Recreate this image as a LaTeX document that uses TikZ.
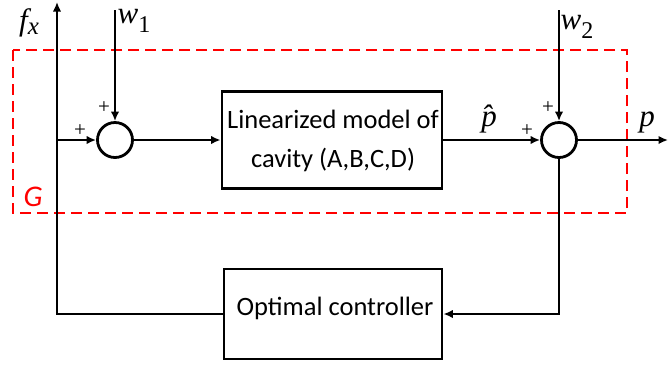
\documentclass[tikz,border=0pt]{standalone}
\usepackage{fontspec}
\setmainfont{Liberation Serif}
\newfontfamily\calib{Carlito}
\newfontfamily\tms{Liberation Serif}
\newcommand\mlabtxt[1]{{\tms\itshape\fontsize{31}{34}\selectfont #1}}
\newcommand\pltxt{{\tms\fontsize{21}{22}\selectfont +}}
\usetikzlibrary{arrows.meta}
\begin{document}
\begin{tikzpicture}[x=1pt,y=-1pt,
  line width=2.8pt,
  arr/.style={-{Latex[length=9.5pt,width=8.5pt]}},
  sumnode/.style={circle,draw,line width=2.8pt,minimum size=35pt,inner sep=0pt},
  blk/.style={draw,line width=2.8pt,rectangle,inner sep=0pt},
  blktext/.style={font=\calib\fontsize{26.5}{39}\selectfont,align=center,inner sep=0pt},
  mlab/.style={inner sep=0pt},
  pl/.style={inner sep=0pt},
  gbox/.style={draw=red,dash pattern=on 11pt off 6pt,line width=2.3pt}
]
\useasboundingbox (0,0) rectangle (668,365);
% dashed G box
\draw[gbox] (13,50) rectangle (627,213);
\node[text=red,inner sep=0pt] (G) at (33,197) {\calib\itshape\fontsize{30}{32}\selectfont G};

% nodes
\node[sumnode] (s1) at (115,140) {};
\node[sumnode] (s2) at (559,140) {};
\node[blk,minimum width=220pt,minimum height=97pt] (model) at (332,140) {};
\node[blktext] (modeltxt) at (333,141) {Linearized model of\\cavity (A,B,C,D)};
\node[blk,minimum width=218pt,minimum height=90pt] (ctrl) at (333,314) {};
\node[blktext] (ctrltxt) at (335,308) {Optimal controller};

% coordinates
\coordinate (fxtop) at (57,2);
\coordinate (j1) at (57,140);
\coordinate (w1top) at (115,10);
\coordinate (w2top) at (559,10);
\coordinate (pout) at (668,140);

% connectors
\draw[arr] (ctrl.west) -| (fxtop);
\draw[arr] (j1) -- (s1.west);
\draw[arr] (w1top) -- (s1.north);
\draw[arr] (s1.east) -- (model.west);
\draw[arr] (model.east) -- (s2.west);
\draw[arr] (w2top) -- (s2.north);
\draw[arr] (s2.east) -- (pout);
\draw[arr] (s2.south) |- (ctrl.east);

% labels
\node[mlab] (fx) at (29,23) {\mlabtxt{f\raisebox{-4pt}{\fontsize{25}{26}\selectfont x}}};
\node[mlab] (w1) at (134,21) {\mlabtxt{w\raisebox{-9pt}{\fontsize{24}{26}\selectfont\upshape 1}}};
\node[mlab] (w2) at (577,27) {\mlabtxt{w\raisebox{-9pt}{\fontsize{24}{26}\selectfont\upshape 2}}};
\node[mlab] (phat) at (489,119) {\mlabtxt{\^{p}}};
\node[mlab] (p) at (647,122) {\mlabtxt{p}};
\node[pl] (pl1) at (80,131) {\pltxt};
\node[pl] (pl2) at (104,108) {\pltxt};
\node[pl] (pl3) at (527,131) {\pltxt};
\node[pl] (pl4) at (548,108) {\pltxt};
\end{tikzpicture}
\end{document}
